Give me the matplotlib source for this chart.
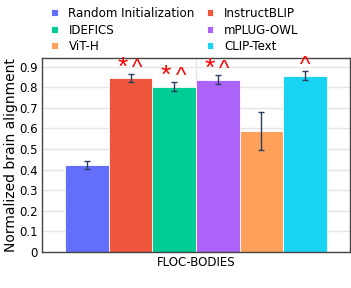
import matplotlib
matplotlib.use("Agg")
import matplotlib.pyplot as plt
import numpy as np

# Values
models = ["Random Initialization", "InstructBLIP", "IDEFICS", "mPLUG-OWL", "ViT-H", "CLIP-Text"]
scores = [0.423, 0.843, 0.802, 0.835, 0.587, 0.856]
errors = [0.019, 0.020, 0.021, 0.022, 0.091, 0.022]
stars = [False, True, True, True, False, False]
carets = [False, True, True, True, False, True]
colors = ["#636EFA", "#EF553B", "#00CC96", "#AB63FA", "#FFA15A", "#19D3F3"]
category = "FLOC-BODIES"

plt.rcParams["font.family"] = "DejaVu Sans"
fig = plt.figure(figsize=(3.51, 2.88), dpi=100)
ax = fig.add_axes([0.1197, 0.125, 0.8775, 0.674])

width = 0.1415
n = len(models)
offsets = (np.arange(n) - (n - 1) / 2) * width
handles = []
for i in range(n):
    b = ax.bar(offsets[i], scores[i], width=width, color=colors[i], edgecolor="white",
               linewidth=0.6, label=models[i], zorder=2)
    handles.append(b)
    ax.errorbar(offsets[i], scores[i], yerr=errors[i], color="#2a3f5f", capsize=2.5,
                elinewidth=1, capthick=1, zorder=3)
    ytop = scores[i] + errors[i] + 0.08
    if stars[i]:
        ax.text(offsets[i] - 0.19 * width, ytop + 0.01, "*", color="red", ha="center",
                va="top", fontsize=19, family="Liberation Sans")
    if carets[i]:
        dx = 0.15 * width if stars[i] else 0
        ax.text(offsets[i] + dx, ytop, "^", color="red", ha="center",
                va="top", fontsize=16, family="Liberation Sans")

ax.set_xlim(-0.5, 0.5)
ax.set_ylim(0, 0.942)
ax.set_yticks(np.arange(0, 1.0, 0.1))
ax.set_yticklabels(["0"] + [f"{v:.1f}" for v in np.arange(0.1, 1.0, 0.1)])
ax.set_xticks([0])
ax.set_xticklabels([category])
ax.tick_params(axis="both", length=0, labelsize=8.5, pad=3)
ax.grid(True, color="#e5e5e5", linewidth=1, zorder=0)
ax.set_axisbelow(True)
for s in ax.spines.values():
    s.set_color("#444444")
    s.set_linewidth(1)
ax.set_ylabel("Normalized brain alignment", fontsize=10, labelpad=1)

# legend is filled row by row, matplotlib fills column by column
order = [0, 2, 4, 1, 3, 5]
ax.legend([handles[k] for k in order], [models[k] for k in order],
          loc="lower left", bbox_to_anchor=(0.014, 1.0), ncol=2, frameon=False,
          fontsize=8.6, handlelength=0.55, handleheight=0.55, columnspacing=1.0,
          handletextpad=0.9, labelspacing=0.3, borderaxespad=0.0)

fig.savefig("out.png", dpi=100)
